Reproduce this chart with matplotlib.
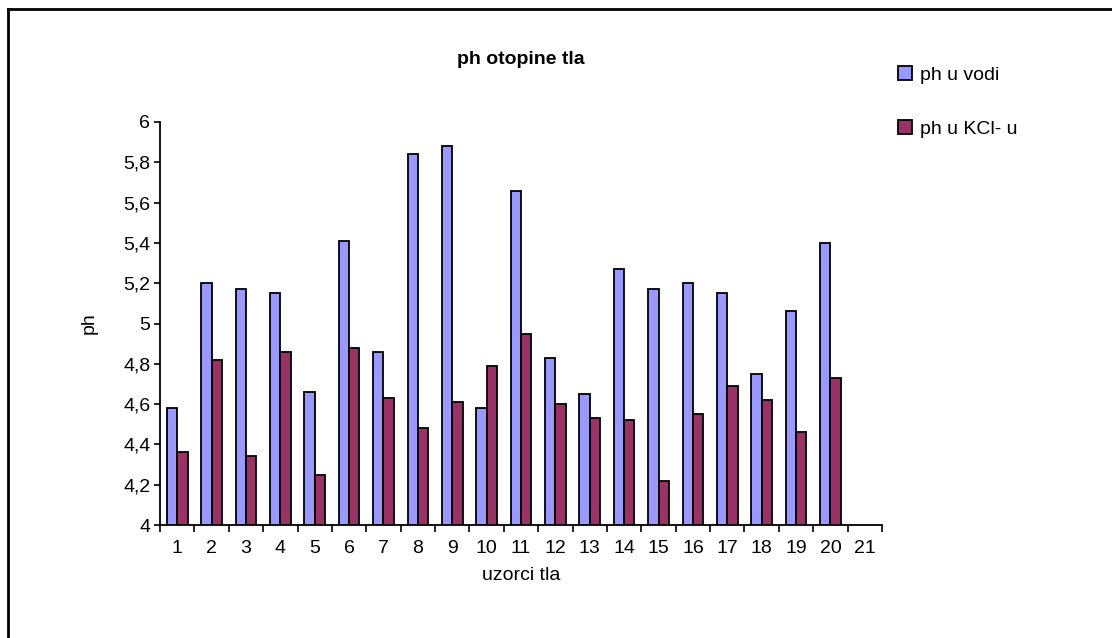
import matplotlib
matplotlib.use('Agg')
import matplotlib.pyplot as plt
from matplotlib.lines import Line2D
import numpy as np

plt.rcParams['font.family'] = ['Liberation Sans', 'DejaVu Sans']

categories = [str(i) for i in range(1, 22)]
ph_voda = [4.58, 5.20, 5.17, 5.15, 4.66, 5.41, 4.86, 5.84, 5.88, 4.58,
           5.66, 4.83, 4.65, 5.27, 5.17, 5.20, 5.15, 4.75, 5.06, 5.40, np.nan]
ph_kcl = [4.36, 4.82, 4.34, 4.86, 4.25, 4.88, 4.63, 4.48, 4.61, 4.79,
          4.95, 4.60, 4.53, 4.52, 4.22, 4.55, 4.69, 4.62, 4.46, 4.73, np.nan]
yticks = [4, 4.2, 4.4, 4.6, 4.8, 5, 5.2, 5.4, 5.6, 5.8, 6]

fs = 14

fig = plt.figure(figsize=(11.12, 6.38), dpi=100)
ax = fig.add_axes([160/1112, 1-525/638, (882-160)/1112, (525-122)/638])

x = np.arange(1, len(categories) + 1)
w = 0.3
ax.bar(x - w/2, ph_voda, w, color='#9999FF', edgecolor='black', linewidth=1.3, label='ph u vodi')
ax.bar(x + w/2, ph_kcl, w, color='#993366', edgecolor='black', linewidth=1.3, label='ph u KCl- u')

ax.set_xlim(0.5, len(categories) + 0.5)
ax.set_ylim(4, 6)
ax.set_yticks(yticks)
ax.set_yticklabels([('%g' % v).replace('.', ',') for v in yticks], fontsize=fs)
ax.set_xticks(np.arange(0.5, len(categories) + 1, 1))
ax.set_xticklabels([])
ax.set_xticks(x, minor=True)
ax.set_xticklabels(categories, minor=True, fontsize=fs)
ax.tick_params(axis='x', which='minor', length=0, pad=11)
ax.tick_params(axis='x', which='major', direction='out', length=5, width=1.2)
ax.tick_params(axis='y', direction='out', length=4, width=1.2, pad=3)

for s in ['top', 'right']:
    ax.spines[s].set_visible(False)
for s in ['left', 'bottom']:
    ax.spines[s].set_linewidth(1.3)

ax.set_xlabel('uzorci tla', fontsize=fs, labelpad=7)
ax.set_ylabel('ph', fontsize=fs, labelpad=18)
fig.text(521/1112, 1-59/638, 'ph otopine tla', fontsize=fs, fontweight='bold',
         ha='center', va='center')

leg = ax.legend(loc='upper left', bbox_to_anchor=(890/1112, 1-58/638),
                bbox_transform=fig.transFigure, frameon=False, fontsize=fs,
                handlelength=0.75, handleheight=0.75, handletextpad=0.4,
                labelspacing=1.85, borderaxespad=0)

# outer chart border (top and left visible)
fig.add_artist(Line2D([8/1112, 1], [1-9/638, 1-9/638], color='black', linewidth=2, transform=fig.transFigure))
fig.add_artist(Line2D([8/1112, 8/1112], [0, 1-9/638], color='black', linewidth=2, transform=fig.transFigure))

fig.savefig('out.png', dpi=100)
